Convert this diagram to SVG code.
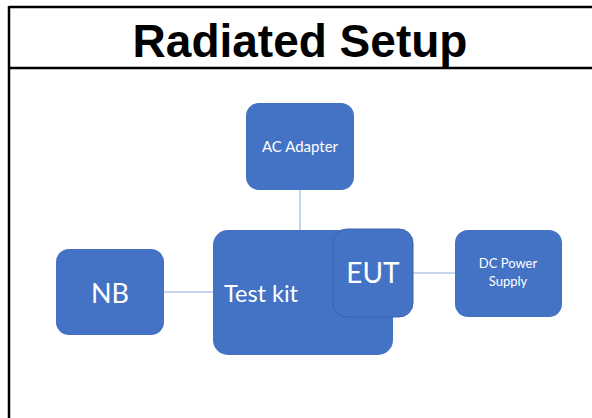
<svg xmlns="http://www.w3.org/2000/svg" width="592" height="418" viewBox="0 0 592 418">
<style>
.frame{stroke:#000;stroke-width:2.5;fill:none}
.box{fill:#4472C4}
.lbl{fill:#fff;font-family:Lato,"Open Sans",sans-serif;text-anchor:middle}
.conn{stroke:#8FAADC;stroke-width:1;fill:none}
.title{font-family:"Liberation Sans",Arial,sans-serif;font-weight:bold;font-size:46px;text-anchor:middle;fill:#000}
</style>
<rect x="0" y="0" width="592" height="418" fill="#fff"/>
<g id="frame">
<line class="frame" x1="9" y1="7" x2="592" y2="7"/>
<line class="frame" x1="9" y1="68" x2="592" y2="68"/>
<line class="frame" x1="9" y1="6" x2="9" y2="418"/>
<text class="title" x="300" y="57">Radiated Setup</text>
</g>
<g id="connectors">
<line class="conn" x1="300" y1="190" x2="300" y2="230"/>
<line class="conn" x1="164" y1="292" x2="213" y2="292"/>
<line class="conn" x1="413" y1="273" x2="455" y2="273"/>
</g>
<g id="ac-adapter">
<rect class="box" x="246" y="103" width="108" height="87" rx="13"/>
<text class="lbl" x="300" y="152" font-size="15">AC Adapter</text>
</g>
<g id="nb">
<rect class="box" x="56" y="249" width="108" height="86" rx="13"/>
<text class="lbl" x="110" y="303" font-size="27">NB</text>
</g>
<g id="test-kit">
<rect class="box" x="213" y="230" width="180" height="125" rx="15"/>
<text class="lbl" x="261" y="302" font-size="23.5">Test kit</text>
</g>
<g id="eut">
<rect class="box" x="333" y="229" width="80" height="88" rx="14" stroke="#3A63A8" stroke-width="1"/>
<text class="lbl" x="373" y="283" font-size="28">EUT</text>
</g>
<g id="dc-power-supply">
<rect class="box" x="455" y="230" width="107" height="87" rx="13"/>
<text class="lbl" x="508" y="268" font-size="13">DC Power</text>
<text class="lbl" x="508" y="286" font-size="13">Supply</text>
</g>
</svg>
